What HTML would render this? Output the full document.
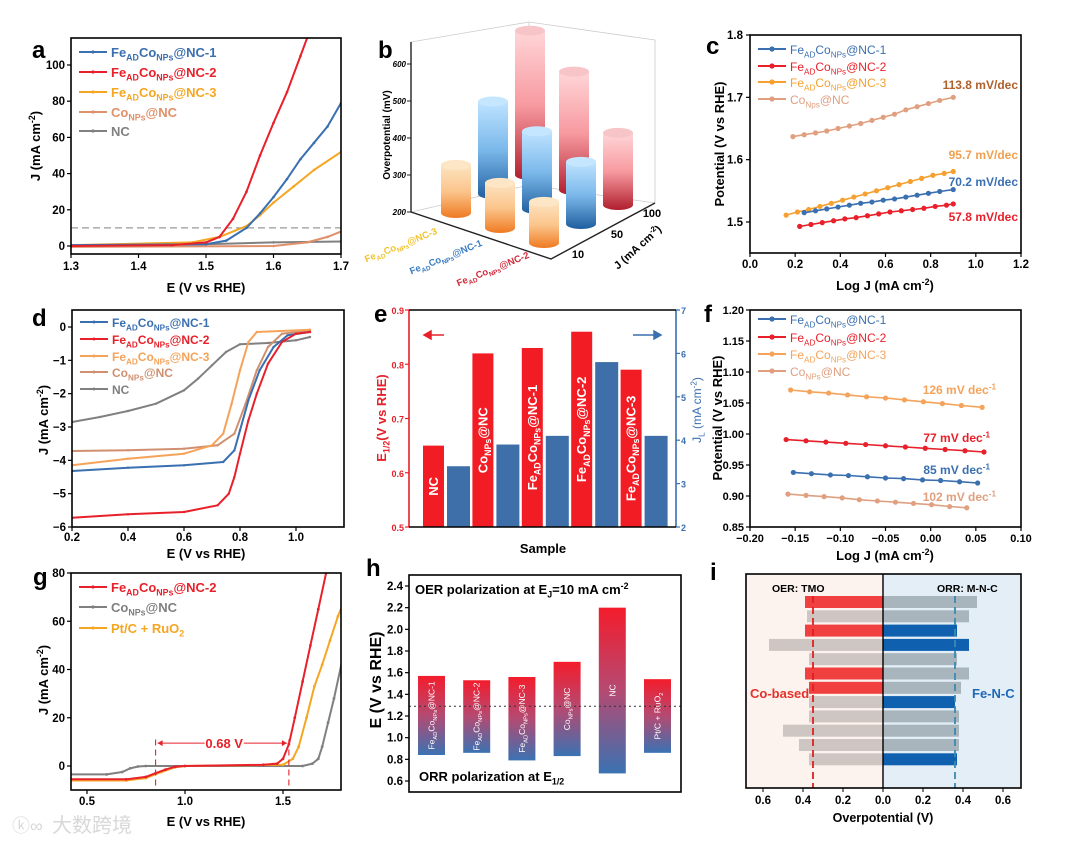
<!DOCTYPE html>
<html><head><meta charset="utf-8">
<style>
html,body{margin:0;padding:0;background:#fff;}
svg{display:block;font-family:"Liberation Sans",Arial,sans-serif;}
</style></head>
<body>
<svg id="fig" width="1080" height="843" viewBox="0 0 1080 843" xmlns="http://www.w3.org/2000/svg">
<defs>
<linearGradient id="gOr" x1="0" y1="0" x2="0" y2="1"><stop offset="0" stop-color="#fde3c0"/><stop offset="0.5" stop-color="#fbc58c"/><stop offset="1" stop-color="#ef7a22"/></linearGradient>
<linearGradient id="gBl" x1="0" y1="0" x2="0" y2="1"><stop offset="0" stop-color="#bfe3ff"/><stop offset="0.5" stop-color="#7ab8ea"/><stop offset="1" stop-color="#1f5e9e"/></linearGradient>
<linearGradient id="gRd" x1="0" y1="0" x2="0" y2="1"><stop offset="0" stop-color="#ffd6d8"/><stop offset="0.5" stop-color="#f79aa0"/><stop offset="1" stop-color="#b01e2c"/></linearGradient>
<linearGradient id="gH" x1="0" y1="0" x2="0" y2="1"><stop offset="0" stop-color="#f41c2c"/><stop offset="0.5" stop-color="#b44a72"/><stop offset="1" stop-color="#3a72b2"/></linearGradient>
</defs>
<rect x="0" y="0" width="1080" height="843" fill="#fff"/>
</svg>
<script>
const NS='http://www.w3.org/2000/svg';
const svg=document.getElementById('fig');
const FONT='"Liberation Sans", Arial, sans-serif';

/* ---------- DATA ---------- */
const aNC2=[[1.3,0],[1.45,0.5],[1.5,2],[1.52,5],[1.54,15],[1.56,30],[1.58,50],[1.6,68],[1.62,85],[1.64,105],[1.65,115]];
const aNC1=[[1.3,0.5],[1.5,1],[1.53,3],[1.56,10],[1.58,18],[1.6,27],[1.62,37],[1.64,48],[1.66,57],[1.68,66],[1.7,79]];
const aNC3=[[1.3,0.5],[1.48,2],[1.52,5],[1.56,11],[1.58,17],[1.6,24],[1.63,33],[1.66,42],[1.7,52]];
const aCo=[[1.3,-0.5],[1.6,0],[1.65,2],[1.68,5],[1.7,8]];
const aNC=[[1.3,0.5],[1.5,1],[1.6,2],[1.7,2.5]];
const aXTicks=[1.3,1.4,1.5,1.6,1.7];
const aYTicks=[0,20,40,60,80,100];
const bSamples=['Fe_{AD}Co_{NPs}@NC-3','Fe_{AD}Co_{NPs}@NC-1','Fe_{AD}Co_{NPs}@NC-2'];
const bJ=['10','50','100'];
const bNC3=[311,322,330];
const bNC1=[368,410,450];
const bNC2=[395,520,590];
const bYTicks=[200,300,400,500,600];
const cCo=[[0.19,1.637],[0.24,1.640],[0.29,1.643],[0.34,1.646],[0.39,1.650],[0.44,1.654],[0.49,1.658],[0.54,1.663],[0.59,1.668],[0.64,1.673],[0.69,1.680],[0.74,1.685],[0.79,1.690],[0.84,1.695],[0.90,1.700]];
const cNC3=[[0.16,1.511],[0.21,1.516],[0.26,1.520],[0.31,1.525],[0.36,1.530],[0.41,1.535],[0.46,1.540],[0.51,1.545],[0.56,1.550],[0.61,1.555],[0.66,1.560],[0.71,1.565],[0.76,1.570],[0.81,1.575],[0.86,1.578],[0.90,1.581]];
const cNC1=[[0.24,1.515],[0.29,1.518],[0.34,1.521],[0.39,1.524],[0.44,1.527],[0.49,1.530],[0.54,1.532],[0.59,1.535],[0.64,1.537],[0.69,1.540],[0.74,1.543],[0.79,1.546],[0.84,1.549],[0.90,1.552]];
const cNC2=[[0.22,1.493],[0.27,1.496],[0.32,1.499],[0.37,1.502],[0.42,1.505],[0.47,1.507],[0.52,1.510],[0.57,1.513],[0.62,1.516],[0.67,1.518],[0.72,1.520],[0.77,1.522],[0.82,1.525],[0.87,1.527],[0.90,1.529]];
const cXTicks=[0,0.2,0.4,0.6,0.8,1.0,1.2];
const cYTicks=[1.5,1.6,1.7,1.8];
const dNC2=[[0.2,-5.72],[0.4,-5.62],[0.6,-5.55],[0.72,-5.35],[0.76,-5.0],[0.78,-4.5],[0.8,-3.8],[0.83,-2.8],[0.86,-2.0],[0.9,-1.1],[0.95,-0.45],[1.0,-0.2],[1.05,-0.15]];
const dNC1=[[0.2,-4.32],[0.4,-4.22],[0.6,-4.15],[0.74,-4.05],[0.78,-3.7],[0.8,-3.1],[0.83,-2.2],[0.87,-1.3],[0.92,-0.6],[0.97,-0.25],[1.05,-0.15]];
const dNC3=[[0.2,-4.15],[0.4,-3.95],[0.6,-3.8],[0.7,-3.55],[0.74,-3.2],[0.77,-2.3],[0.8,-1.3],[0.83,-0.45],[0.86,-0.15],[1.05,-0.08]];
const dCo=[[0.2,-3.72],[0.4,-3.7],[0.6,-3.65],[0.72,-3.55],[0.78,-3.2],[0.82,-2.3],[0.86,-1.3],[0.9,-0.6],[0.95,-0.2],[1.05,-0.1]];
const dNC=[[0.2,-2.85],[0.3,-2.7],[0.4,-2.52],[0.5,-2.3],[0.6,-1.9],[0.65,-1.55],[0.7,-1.15],[0.75,-0.75],[0.8,-0.52],[0.9,-0.48],[1.0,-0.4],[1.05,-0.3]];
const dXTicks=[0.2,0.4,0.6,0.8,1.0];
const dYTicks=[0,-1,-2,-3,-4,-5,-6];
const eSamples=['NC','Co_{NPs}@NC','Fe_{AD}Co_{NPs}@NC-1','Fe_{AD}Co_{NPs}@NC-2','Fe_{AD}Co_{NPs}@NC-3'];
const eE12=[0.65,0.82,0.83,0.86,0.79];
const eJL=[3.4,3.9,4.1,5.8,4.1];
const eLTicks=[0.5,0.6,0.7,0.8,0.9];
const eRTicks=[2,3,4,5,6,7];
const fNC3=[[-0.155,1.071],[-0.134,1.068],[-0.113,1.066],[-0.092,1.063],[-0.071,1.060],[-0.050,1.058],[-0.029,1.055],[-0.008,1.052],[0.013,1.049],[0.034,1.046],[0.057,1.043]];
const fNC2=[[-0.160,0.991],[-0.138,0.989],[-0.116,0.987],[-0.094,0.985],[-0.072,0.983],[-0.050,0.981],[-0.028,0.979],[-0.006,0.977],[0.016,0.975],[0.038,0.973],[0.059,0.971]];
const fNC1=[[-0.152,0.938],[-0.132,0.936],[-0.111,0.934],[-0.091,0.933],[-0.070,0.931],[-0.050,0.929],[-0.030,0.928],[-0.009,0.926],[0.011,0.925],[0.032,0.923],[0.052,0.921]];
const fCo=[[-0.158,0.903],[-0.138,0.901],[-0.118,0.899],[-0.098,0.897],[-0.079,0.894],[-0.059,0.892],[-0.039,0.890],[-0.019,0.888],[0.001,0.886],[0.021,0.883],[0.040,0.881]];
const fXTicks=[-0.2,-0.15,-0.1,-0.05,0,0.05,0.1];
const fYTicks=[0.85,0.9,0.95,1.0,1.05,1.1,1.15,1.2];
const gNC2=[[0.4,-5.5],[0.7,-5.5],[0.8,-4.5],[0.85,-3],[0.9,-1.5],[0.95,-0.3],[1.0,0],[1.4,0.5],[1.47,1],[1.5,3],[1.53,9],[1.56,20],[1.6,35],[1.64,50],[1.68,65],[1.72,80]];
const gCo=[[0.4,-3.5],[0.6,-3.5],[0.68,-2.5],[0.72,-1],[0.76,-0.2],[0.8,0],[1.6,0],[1.65,1],[1.68,3],[1.7,8],[1.73,18],[1.76,28],[1.8,43]];
const gPt=[[0.4,-6],[0.7,-6],[0.8,-5],[0.88,-2.5],[0.95,-0.5],[1.0,0],[1.5,0.5],[1.55,3],[1.58,8],[1.62,20],[1.66,33],[1.7,42],[1.74,52],[1.78,62],[1.8,66]];
const gXTicks=[0.5,1.0,1.5];
const gYTicks=[0,20,40,60,80];
const gGap=[0.85,1.53];
const hSamples=['Fe_{AD}Co_{NPs}@NC-1','Fe_{AD}Co_{NPs}@NC-2','Fe_{AD}Co_{NPs}@NC-3','Co_{NPs}@NC','NC','Pt/C + RuO_{2}'];
const hOER=[1.57,1.53,1.56,1.70,2.20,1.54];
const hORR=[0.84,0.86,0.79,0.83,0.67,0.86];
const hYTicks=[0.6,0.8,1.0,1.2,1.4,1.6,1.8,2.0,2.2,2.4];
const iOER=[0.39,0.38,0.39,0.57,0.37,0.39,0.37,0.37,0.37,0.50,0.42,0.37];
const iOERType=['r','g','r','g','g','r','r','g','g','g','g','g'];
const iORR=[0.47,0.43,0.37,0.43,0.37,0.43,0.39,0.36,0.38,0.38,0.38,0.37];
const iORRType=['g','g','b','b','g','g','g','b','g','g','g','b'];
const iXTicks=[-0.6,-0.4,-0.2,0,0.2,0.4,0.6];
const iOERref=0.35, iORRref=0.36;

/* ---------- HELPERS ---------- */
function mk(tag,attrs,parent,name){
  const e=document.createElementNS(NS,tag);
  for(const k in attrs) e.setAttribute(k,attrs[k]);
  
  
  (parent||svg).appendChild(e);
  return e;
}
function lin(d0,d1,p0,p1){return v=>p0+(v-d0)*(p1-p0)/(d1-d0);}
function rich(x,y,str,o,name){
  o=o||{};
  const size=o.size||12;
  const t=mk('text',{x:x,y:y,'font-size':size,'font-weight':o.normal?'normal':'bold',fill:o.fill||'#000','text-anchor':o.anchor||'start','font-family':FONT,'font-style':o.italic?'italic':'normal'},o.parent,name);
  if(o.rot) t.setAttribute('transform','rotate('+o.rot+' '+x+' '+y+')');
  const re=/([_^])\{([^}]*)\}|([^_^]+)/g; let m; let off=0;
  while((m=re.exec(str))){
    const ts=document.createElementNS(NS,'tspan');
    if(m[3]){ts.textContent=m[3]; if(off){ts.setAttribute('dy',-off); off=0;}}
    else{
      ts.textContent=m[2];
      ts.setAttribute('font-size',size*0.68);
      const d=m[1]==='_'?size*0.28:-size*0.38;
      ts.setAttribute('dy',d-off); off=d;
    }
    t.appendChild(ts);
  }
  return t;
}
function frame(x0,y0,x1,y1,name,stroke){
  mk('rect',{x:x0,y:y0,width:x1-x0,height:y1-y0,fill:'none',stroke:stroke||'#000','stroke-width':1.6},null,name);
}
function fmt(v,d){return v.toFixed(d).replace('-','\u2212');}
function xAxis(ticks,sx,y,ly,dec,name,size){
  ticks.forEach(v=>{
    mk('line',{x1:sx(v),x2:sx(v),y1:y,y2:y+4,stroke:'#000','stroke-width':1.2},null,name+'-tick');
    rich(sx(v),ly,fmt(v,dec),{anchor:'middle',size:size||11.5},name+'-label');
  });
}
function yAxis(ticks,sy,x,lx,dec,name,fill,size,right){
  ticks.forEach(v=>{
    mk('line',{x1:x,x2:right?x+4:x-4,y1:sy(v),y2:sy(v),stroke:fill||'#000','stroke-width':1.2},null,name+'-tick');
    rich(lx,sy(v)+4,fmt(v,dec),{anchor:right?'start':'end',size:size||11.5,fill:fill||'#000'},name+'-label');
  });
}
function series(data,sx,sy,color,r,name,clip,w){
  const d=data.map((p,i)=>(i?'L':'M')+sx(p[0]).toFixed(1)+','+sy(p[1]).toFixed(1)).join('');
  const p=mk('path',{d:d,fill:'none',stroke:color,'stroke-width':w||1.6,'stroke-linejoin':'round'},null,name);
  if(clip) p.setAttribute('clip-path','url(#'+clip+')');
  data.forEach(pt=>{
    const c=mk('circle',{cx:sx(pt[0]),cy:sy(pt[1]),r:r,fill:color},null,name+'-marker');
    if(clip) c.setAttribute('clip-path','url(#'+clip+')');
  });
}
function clipRect(id,x0,y0,x1,y1){
  const defs=svg.querySelector('defs');
  const cp=document.createElementNS(NS,'clipPath'); cp.setAttribute('id',id); defs.appendChild(cp);
  const r=document.createElementNS(NS,'rect'); r.setAttribute('x',x0);r.setAttribute('y',y0);r.setAttribute('width',x1-x0);r.setAttribute('height',y1-y0); cp.appendChild(r);
}
function legend(x,y,color,label,name,size,r,normal){
  mk('line',{x1:x,x2:x+28,y1:y,y2:y,stroke:color,'stroke-width':2},null,name+'-line');
  mk('circle',{cx:x+14,cy:y,r:r,fill:color},null,name+'-marker');
  rich(x+32,y+5,label,{fill:color,size:size||13,normal:normal},name+'-label');
}
function letter(x,y,s){rich(x,y,s,{size:24},'panel-label-'+s);}

const BLUE='#3a6fb0',RED='#e8202a',ORG='#f5a623',CO='#e0906a',GRY='#808080',LOR='#f5a35a';

/* ---------- PANEL A ---------- */
(function(){
  const sx=lin(1.3,1.7,71,341), sy=lin(0,100,246,65);
  clipRect('clipA',71,38,341,254);
  mk('line',{x1:71,x2:341,y1:sy(10),y2:sy(10),stroke:'#999','stroke-dasharray':'7,4','stroke-width':1.2},null,'a-10ma-reference-line');
  series(aNC,sx,sy,GRY,1.3,'a-nc-curve','clipA',2);
  series(aCo,sx,sy,CO,1.3,'a-co-curve','clipA',2);
  series(aNC3,sx,sy,ORG,1.3,'a-nc3-curve','clipA',2);
  series(aNC1,sx,sy,BLUE,1.3,'a-nc1-curve','clipA',2);
  series(aNC2,sx,sy,RED,1.3,'a-nc2-curve','clipA',2);
  frame(71,38,341,254,'a-plot-frame');
  xAxis(aXTicks,sx,254,270,1,'a-x');
  yAxis(aYTicks,sy,71,65,0,'a-y');
  rich(206,292,'E (V vs RHE)',{anchor:'middle',size:13},'a-x-title');
  rich(40,146,'J (mA cm^{-2})',{anchor:'middle',size:13,rot:-90},'a-y-title');
  letter(32,58,'a');
  legend(79,52,BLUE,'Fe_{AD}Co_{NPs}@NC-1','a-legend-nc1',13,1.6);
  legend(79,72,RED,'Fe_{AD}Co_{NPs}@NC-2','a-legend-nc2',13,1.6);
  legend(79,92,ORG,'Fe_{AD}Co_{NPs}@NC-3','a-legend-nc3',13,1.6);
  legend(79,112,CO,'Co_{NPs}@NC','a-legend-co',13,1.6);
  legend(79,131,GRY,'NC','a-legend-nc',13,1.6);
})();

/* ---------- PANEL B (3D cylinders) ---------- */
(function(){
  const g=mk('g',{},null,'b-3d-chart');
  mk('path',{d:'M411,42 L529,22 L529,185 M529,22 L655,40 L655,203 M411,212 L529,185 L655,203',fill:'none',stroke:'#ccc','stroke-width':0.8},g,'b-back-walls');
  mk('path',{d:'M411,42 L411,212 L551,259 L655,203',fill:'none',stroke:'#222','stroke-width':1.4},g,'b-axes');
  const sv=v=>212-(v-200)*0.37;
  bYTicks.forEach(v=>{
    mk('line',{x1:411,x2:407,y1:sv(v),y2:sv(v),stroke:'#222'},g,'b-y-tick');
    rich(406,sv(v)+3,String(v),{anchor:'end',size:8,italic:true,parent:g},'b-y-label');
  });
  rich(390,135,'Overpotential (mV)',{anchor:'middle',size:10,rot:-90,parent:g},'b-y-title');
  const base=(s,j)=>[544+s*37-j*44, 243-s*19-j*15];
  const vals=[bNC3,bNC1,bNC2];
  const grads=['url(#gOr)','url(#gBl)','url(#gRd)'];
  const tops=['#fde6c6','#c4e6ff','#f7c4c8'];
  const items=[];
  vals.forEach((arr,s)=>arr.forEach((v,j)=>items.push({s:s,j:j,v:v})));
  items.sort((a,b)=>base(a.s,a.j)[1]-base(b.s,b.j)[1]);
  const rx=15, ry=5;
  items.forEach(it=>{
    const [cx,by]=base(it.s,it.j);
    const ty=by-(it.v-200)*0.37;
    const c=mk('g',{},g,'b-cylinder');
    mk('path',{d:`M${cx-rx},${ty} L${cx-rx},${by} A${rx},${ry} 0 0 0 ${cx+rx},${by} L${cx+rx},${ty} Z`,fill:grads[it.s]},c,'b-cylinder-body');
    mk('ellipse',{cx:cx,cy:ty,rx:rx,ry:ry,fill:tops[it.s]},c,'b-cylinder-top');
  });
  const cols=['#f3c22c','#3a7cc0','#d02a3a'];
  const lp=[[402,248],[447,260],[494,272]];
  bSamples.forEach((s,i)=>rich(lp[i][0],lp[i][1],s,{anchor:'middle',size:9.5,fill:cols[i],rot:-22,parent:g},'b-sample-label'));
  const jp=[[578,258],[617,238],[652,217]];
  bJ.forEach((s,i)=>rich(jp[i][0],jp[i][1],s,{anchor:'middle',size:11,parent:g},'b-j-label'));
  rich(640,250,'J (mA cm^{-2})',{anchor:'middle',size:11,rot:-42,parent:g},'b-j-title');
  letter(378,58,'b');
})();

/* ---------- PANEL C ---------- */
(function(){
  const sx=lin(0,1.2,750,1021), sy=lin(1.5,1.8,222,35);
  series(cCo,sx,sy,'#e0a080',2.6,'c-co-series');
  series(cNC3,sx,sy,'#f5a030',2.6,'c-nc3-series');
  series(cNC1,sx,sy,BLUE,2.6,'c-nc1-series');
  series(cNC2,sx,sy,RED,2.6,'c-nc2-series');
  frame(750,35,1021,253,'c-plot-frame');
  xAxis(cXTicks,sx,253,268,1,'c-x');
  yAxis(cYTicks,sy,750,743,1,'c-y');
  rich(885,290,'Log J (mA cm^{-2})',{anchor:'middle',size:13},'c-x-title');
  rich(724,144,'Potential (V vs RHE)',{anchor:'middle',size:13,rot:-90},'c-y-title');
  letter(706,54,'c');
  legend(758,49,BLUE,'Fe_{AD}Co_{NPs}@NC-1','c-legend-nc1',12,2.6,true);
  legend(758,66,RED,'Fe_{AD}Co_{NPs}@NC-2','c-legend-nc2',12,2.6,true);
  legend(758,82,'#f5a030','Fe_{AD}Co_{NPs}@NC-3','c-legend-nc3',12,2.6,true);
  legend(758,99,'#e0a080','Co_{Nps}@NC','c-legend-co',12,2.6,true);
  rich(1018,89,'113.8 mV/dec',{anchor:'end',size:12,fill:'#b0602a'},'c-slope-co');
  rich(1018,159,'95.7 mV/dec',{anchor:'end',size:12,fill:'#f0a050'},'c-slope-nc3');
  rich(1018,186,'70.2 mV/dec',{anchor:'end',size:12,fill:BLUE},'c-slope-nc1');
  rich(1018,221,'57.8 mV/dec',{anchor:'end',size:12,fill:RED},'c-slope-nc2');
})();

/* ---------- PANEL D ---------- */
(function(){
  const sx=lin(0.2,1.0,72,296), sy=lin(0,-6,327,527);
  clipRect('clipD',72,310,344,527);
  series(dNC,sx,sy,GRY,1.2,'d-nc-curve','clipD',2);
  series(dCo,sx,sy,'#d09070',1.2,'d-co-curve','clipD',2);
  series(dNC3,sx,sy,LOR,1.2,'d-nc3-curve','clipD',2);
  series(dNC1,sx,sy,BLUE,1.2,'d-nc1-curve','clipD',2);
  series(dNC2,sx,sy,RED,1.2,'d-nc2-curve','clipD',2);
  frame(72,310,344,527,'d-plot-frame');
  xAxis(dXTicks,sx,527,541,1,'d-x');
  yAxis(dYTicks,sy,72,66,0,'d-y');
  rich(206,558,'E (V vs RHE)',{anchor:'middle',size:13},'d-x-title');
  rich(48,420,'J (mA cm^{-2})',{anchor:'middle',size:13,rot:-90},'d-y-title');
  letter(32,326,'d');
  legend(80,322,BLUE,'Fe_{AD}Co_{NPs}@NC-1','d-legend-nc1',12,1.5);
  legend(80,339,RED,'Fe_{AD}Co_{NPs}@NC-2','d-legend-nc2',12,1.5);
  legend(80,356,LOR,'Fe_{AD}Co_{NPs}@NC-3','d-legend-nc3',12,1.5);
  legend(80,372,'#d09070','Co_{NPs}@NC','d-legend-co',12,1.5);
  legend(80,389,GRY,'NC','d-legend-nc',12,1.5);
})();

/* ---------- PANEL E ---------- */
(function(){
  const sl=lin(0.5,0.9,527,310), sr=lin(2,7,527,310);
  const gx=i=>409+14+i*49.4;
  eE12.forEach((v,i)=>{
    mk('rect',{x:gx(i),y:sl(v),width:21,height:527-sl(v),fill:'#f21c24'},null,'e-e12-bar');
  });
  eJL.forEach((v,i)=>{
    mk('rect',{x:gx(i)+24,y:sr(v),width:23,height:527-sr(v),fill:'#3f6fa8'},null,'e-jl-bar');
  });
  eSamples.forEach((s,i)=>{
    const cx=gx(i)+10.5+4.5, cy=(sl(eE12[i])+527)/2;
    rich(cx,cy,s,{anchor:'middle',size:13,fill:'#fff',rot:-90},'e-bar-label');
  });
  mk('line',{x1:409,x2:409,y1:310,y2:527,stroke:'#e8202a','stroke-width':1.6},null,'e-left-axis');
  mk('line',{x1:676,x2:676,y1:310,y2:527,stroke:'#3a6fb0','stroke-width':1.6},null,'e-right-axis');
  mk('line',{x1:409,x2:676,y1:310,y2:310,stroke:'#000','stroke-width':1.6},null,'e-top-axis');
  mk('line',{x1:409,x2:676,y1:527,y2:527,stroke:'#000','stroke-width':1.6},null,'e-bottom-axis');
  yAxis(eLTicks,sl,409,404,1,'e-left',RED,9);
  yAxis(eRTicks,sr,676,681,0,'e-right',BLUE,9,true);
  rich(543,553,'Sample',{anchor:'middle',size:13},'e-x-title');
  rich(386,418,'E_{1/2}(V vs RHE)',{anchor:'middle',size:13,rot:-90,fill:RED},'e-left-title');
  rich(701,410,'J_{L} (mA cm^{-2})',{anchor:'middle',size:12,rot:-90,fill:BLUE,normal:true},'e-right-title');
  mk('path',{d:'M444,335 L424,335 M424,335 L431,331 L431,339 Z',stroke:RED,fill:RED,'stroke-width':1.5},null,'e-left-arrow');
  mk('path',{d:'M633,335 L661,335 M661,335 L654,331 L654,339 Z',stroke:BLUE,fill:BLUE,'stroke-width':1.5},null,'e-right-arrow');
  letter(374,322,'e');
})();

/* ---------- PANEL F ---------- */
(function(){
  const sx=lin(-0.2,0.1,750,1021), sy=lin(0.85,1.2,527,310);
  series(fNC3,sx,sy,LOR,2.6,'f-nc3-series');
  series(fNC2,sx,sy,RED,2.6,'f-nc2-series');
  series(fNC1,sx,sy,BLUE,2.6,'f-nc1-series');
  series(fCo,sx,sy,'#e0a080',2.6,'f-co-series');
  frame(750,310,1021,527,'f-plot-frame');
  xAxis(fXTicks,sx,527,542,2,'f-x',11);
  yAxis(fYTicks,sy,750,744,2,'f-y',null,11);
  rich(885,560,'Log J (mA cm^{-2})',{anchor:'middle',size:13},'f-x-title');
  rich(722,418,'Potential (V vs RHE)',{anchor:'middle',size:13,rot:-90},'f-y-title');
  letter(704,322,'f');
  legend(758,319,BLUE,'Fe_{AD}Co_{NPs}@NC-1','f-legend-nc1',12,2.6,true);
  legend(758,337,RED,'Fe_{AD}Co_{NPs}@NC-2','f-legend-nc2',12,2.6,true);
  legend(758,354,LOR,'Fe_{AD}Co_{NPs}@NC-3','f-legend-nc3',12,2.6,true);
  legend(758,371,'#e0a080','Co_{NPs}@NC','f-legend-co',12,2.6,true);
  rich(996,394,'126 mV dec^{-1}',{anchor:'end',size:12,fill:LOR},'f-slope-nc3');
  rich(990,442,'77 mV dec^{-1}',{anchor:'end',size:12,fill:RED},'f-slope-nc2');
  rich(990,474,'85 mV dec^{-1}',{anchor:'end',size:12,fill:BLUE},'f-slope-nc1');
  rich(996,501,'102 mV dec^{-1}',{anchor:'end',size:12,fill:'#e0a080'},'f-slope-co');
})();

/* ---------- PANEL G ---------- */
(function(){
  const sx=lin(0.5,1.5,87,283), sy=lin(0,80,766,573);
  clipRect('clipG',71,573,341,790);
  series(gCo,sx,sy,GRY,1.4,'g-co-curve','clipG',2);
  series(gPt,sx,sy,'#f5a623',1.4,'g-ptc-curve','clipG',2);
  series(gNC2,sx,sy,RED,1.4,'g-nc2-curve','clipG',2);
  gGap.forEach(v=>mk('line',{x1:sx(v),x2:sx(v),y1:sy(11),y2:790,stroke:RED,'stroke-dasharray':'6,4','stroke-width':1.1},null,'g-gap-marker-line'));
  mk('line',{x1:sx(gGap[0])+2,x2:sx(1.1),y1:sy(9.5),y2:sy(9.5),stroke:RED,'stroke-width':1},null,'g-gap-arrow-left');
  mk('line',{x1:sx(1.3),x2:sx(gGap[1])-2,y1:sy(9.5),y2:sy(9.5),stroke:RED,'stroke-width':1},null,'g-gap-arrow-right');
  mk('path',{d:`M${sx(gGap[0])+2},${sy(9.5)} l5,-3 l0,6 Z M${sx(gGap[1])-2},${sy(9.5)} l-5,-3 l0,6 Z`,fill:RED},null,'g-gap-arrowheads');
  rich((sx(1.1)+sx(1.3))/2,sy(9.5)+5,(gGap[1]-gGap[0]).toFixed(2)+' V',{anchor:'middle',size:13,fill:RED},'g-gap-label');
  frame(71,573,341,790,'g-plot-frame');
  xAxis(gXTicks,sx,790,805,1,'g-x');
  yAxis(gYTicks,sy,71,65,0,'g-y');
  rich(206,826,'E (V vs RHE)',{anchor:'middle',size:13},'g-x-title');
  rich(48,680,'J (mA cm^{-2})',{anchor:'middle',size:13,rot:-90},'g-y-title');
  letter(33,585,'g');
  legend(79,587,RED,'Fe_{AD}Co_{NPs}@NC-2','g-legend-nc2',13,1.6);
  legend(79,607,GRY,'Co_{NPs}@NC','g-legend-co',13,1.6);
  legend(79,628,'#f5a623','Pt/C + RuO_{2}','g-legend-ptc',13,1.6);
  rich(12,832,'\u24DA\u221E',{size:18,fill:'#d8d8d8',normal:true},'watermark-logo');
  rich(52,832,'大数跨境',{size:20,fill:'#d8d8d8',normal:true},'watermark-text');
})();

/* ---------- PANEL H ---------- */
(function(){
  const sy=lin(0.6,2.4,781,586);
  const cx=i=>431.5+i*45.2;
  hOER.forEach((v,i)=>{
    mk('rect',{x:cx(i)-13.5,y:sy(v),width:27,height:sy(hORR[i])-sy(v),fill:'url(#gH)'},null,'h-range-bar');
  });
  mk('line',{x1:409,x2:681,y1:sy(1.29),y2:sy(1.29),stroke:'#333','stroke-dasharray':'2,3','stroke-width':1},null,'h-equilibrium-line');
  hSamples.forEach((s,i)=>{
    rich(cx(i)+3,(sy(hOER[i])+sy(hORR[i]))/2,s,{anchor:'middle',size:8.5,fill:'#fff',rot:-90,normal:true},'h-bar-label');
  });
  frame(409,575,681,792,'h-plot-frame');
  yAxis(hYTicks,sy,409,403,1,'h-y');
  rich(381,680,'E (V vs RHE)',{anchor:'middle',size:16,rot:-90},'h-y-title');
  rich(415,594,'OER polarization at E_{J}=10 mA cm^{-2}',{size:13},'h-oer-note');
  rich(419,781,'ORR polarization at E_{1/2}',{size:13},'h-orr-note');
  letter(366,576,'h');
})();

/* ---------- PANEL I ---------- */
(function(){
  const x0=883, k=200;
  const sx=v=>x0+v*k;
  mk('rect',{x:746,y:574,width:x0-746,height:214,fill:'#fdf3ee'},null,'i-oer-background');
  mk('rect',{x:x0,y:574,width:1021-x0,height:214,fill:'#e3eef7'},null,'i-orr-background');
  const ry=i=>602+i*14.3;
  const lc={r:'#f04040',g:'#cdc6c2'}, rc={g:'#a9b5bd',b:'#1060b0'};
  iOER.forEach((v,i)=>mk('rect',{x:sx(-v),y:ry(i)-6,width:v*k,height:12,fill:lc[iOERType[i]]},null,'i-oer-bar'));
  iORR.forEach((v,i)=>mk('rect',{x:x0,y:ry(i)-6,width:v*k,height:12,fill:rc[iORRType[i]]},null,'i-orr-bar'));
  mk('line',{x1:sx(-iOERref),x2:sx(-iOERref),y1:596,y2:788,stroke:'#e02020','stroke-dasharray':'7,4','stroke-width':1.8},null,'i-oer-reference-line');
  mk('line',{x1:sx(iORRref),x2:sx(iORRref),y1:596,y2:788,stroke:'#3a8ab0','stroke-dasharray':'7,4','stroke-width':1.8},null,'i-orr-reference-line');
  mk('line',{x1:x0,x2:x0,y1:574,y2:788,stroke:'#000','stroke-width':1.4},null,'i-zero-line');
  frame(746,574,1021,788,'i-plot-frame');
  iXTicks.forEach(v=>{
    mk('line',{x1:sx(v),x2:sx(v),y1:788,y2:792,stroke:'#000'},null,'i-x-tick');
    rich(sx(v),804,Math.abs(v).toFixed(1),{anchor:'middle',size:11.5},'i-x-label');
  });
  rich(883,822,'Overpotential (V)',{anchor:'middle',size:12.5},'i-x-title');
  rich(772,592,'OER: TMO',{size:10.5},'i-oer-title');
  rich(937,592,'ORR: M-N-C',{size:10.5},'i-orr-title');
  rich(750,698,'Co-based',{size:13,fill:'#e8302a'},'i-co-based-label');
  rich(972,698,'Fe-N-C',{size:13,fill:'#1e68b8'},'i-fenc-label');
  letter(710,580,'i');
})();
</script>
</body></html>
